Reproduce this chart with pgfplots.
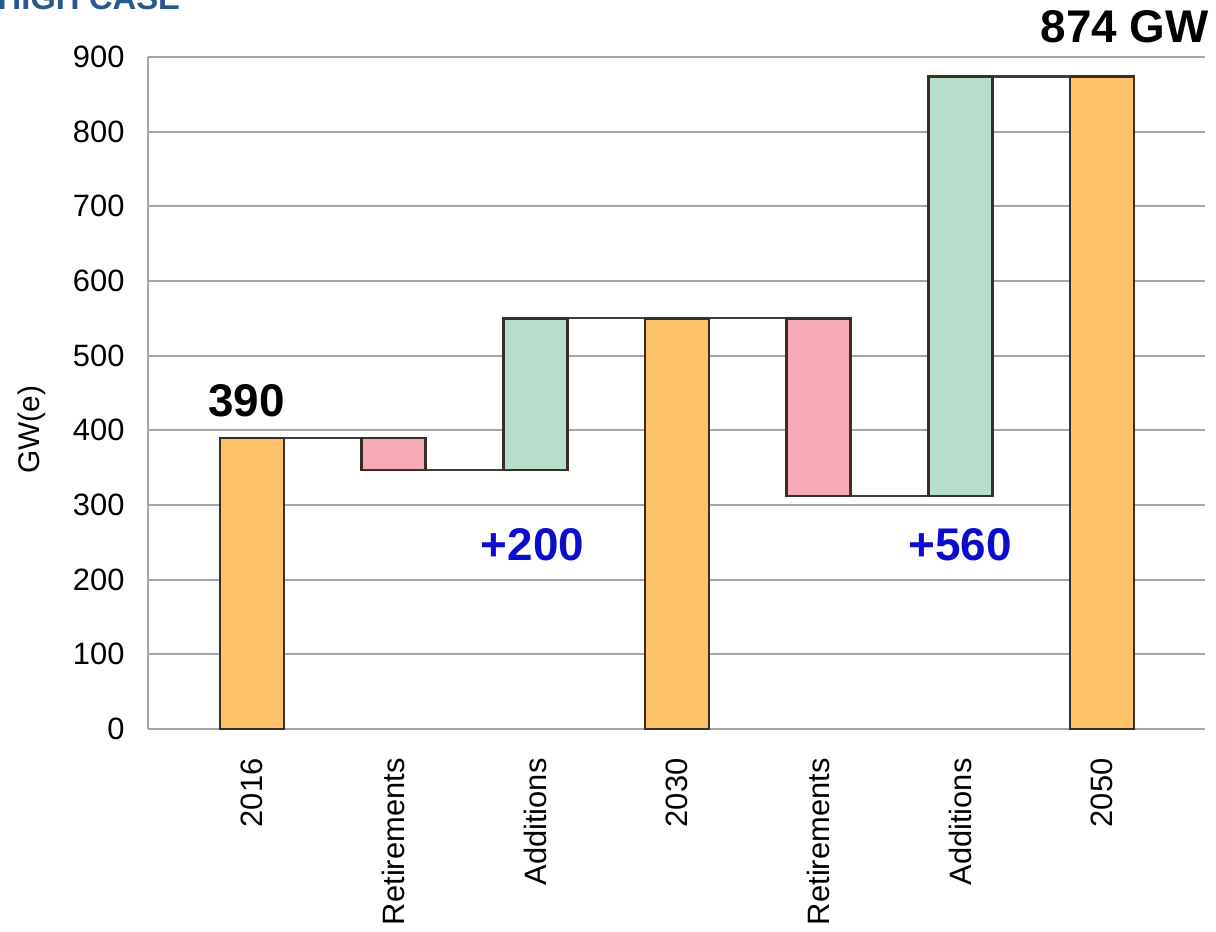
\documentclass[border=0pt]{standalone}
\usepackage{fontspec}
\setmainfont{Liberation Sans}
\usepackage{pgfplots}
\pgfplotsset{compat=1.18}

\definecolor{barorange}{RGB}{253,193,104}
\definecolor{barpink}{RGB}{245,170,182}
\definecolor{bargreen}{RGB}{182,222,202}
\definecolor{barline}{RGB}{58,46,36}
\definecolor{connector}{RGB}{62,62,62}
\definecolor{gridgray}{RGB}{165,165,165}
\definecolor{deltablue}{RGB}{12,12,205}
\definecolor{titleblue}{RGB}{40,88,140}

\begin{document}
\begin{tikzpicture}
\useasboundingbox (-148bp,-203bp) rectangle (1068bp,729bp);
\begin{axis}[
  scale only axis, width=1057bp, height=672bp,
  xmin=-0.734, xmax=6.727, ymin=0, ymax=900,
  ybar stacked, bar width=64bp,
  ytick={0,100,...,900},
  xtick={0,...,6},
  xticklabels={2016,Retirements,Additions,2030,Retirements,Additions,2050},
  ymajorgrids, grid style={draw=gridgray, line width=2bp},
  axis x line*=bottom, axis y line*=left,
  axis line style={draw=gridgray, line width=2bp, -},
  major tick length=0pt,
  tick label style={font=\fontsize{31}{36}\selectfont},
  /pgf/number format/assume math mode=true,
  yticklabel style={xshift=-20bp},
  x tick label style={rotate=90, anchor=east, xshift=-26bp},
  ylabel={GW(e)},
  ylabel style={font=\fontsize{30}{34}\selectfont, at={(axis description cs:-0.11,0.445)}, rotate=0, anchor=center},
  clip=false,
]
% invisible floor of each floating bar
\addplot[draw=none, fill=none, forget plot] coordinates {(0,0) (1,347) (2,347) (3,0) (4,312) (5,312) (6,0)};
% totals
\addplot[fill=barorange, draw=barline, line width=2.4bp] coordinates {(0,390) (1,0) (2,0) (3,550) (4,0) (5,0) (6,874)};
% retirements
\addplot[fill=barpink, draw=barline, line width=2.4bp] coordinates {(0,0) (1,43) (2,0) (3,0) (4,238) (5,0) (6,0)};
% additions
\addplot[fill=bargreen, draw=barline, line width=2.4bp] coordinates {(0,0) (1,0) (2,203) (3,0) (4,0) (5,562) (6,0)};

% connectors between neighbouring bars
\addplot[stack plots=false, sharp plot, draw=connector, line width=2.2bp, forget plot] coordinates {(0.226,390) (0.774,390)};
\addplot[stack plots=false, sharp plot, draw=connector, line width=2.2bp, forget plot] coordinates {(1.226,347) (1.774,347)};
\addplot[stack plots=false, sharp plot, draw=connector, line width=2.2bp, forget plot] coordinates {(2.226,550) (2.774,550)};
\addplot[stack plots=false, sharp plot, draw=connector, line width=2.2bp, forget plot] coordinates {(3.226,550) (3.774,550)};
\addplot[stack plots=false, sharp plot, draw=connector, line width=2.2bp, forget plot] coordinates {(4.226,312) (4.774,312)};
\addplot[stack plots=false, sharp plot, draw=connector, line width=2.2bp, forget plot] coordinates {(5.226,874) (5.774,874)};

\node[font=\bfseries\fontsize{46}{50}\selectfont, anchor=base] at (axis cs:-0.04,418) {390};
\node[font=\bfseries\fontsize{46}{50}\selectfont, anchor=base] at (axis cs:6.16,920) {874 GW};
\node[font=\bfseries\fontsize{46}{50}\selectfont, text=deltablue, anchor=base] at (axis cs:1.98,226) {+200};
\node[font=\bfseries\fontsize{46}{50}\selectfont, text=deltablue, anchor=base] at (axis cs:5.0,226) {+560};
\end{axis}
\node[font=\bfseries\fontsize{33}{38}\selectfont, text=titleblue, anchor=base west] at (-154bp,719bp) {HIGH CASE};
\end{tikzpicture}
\end{document}
